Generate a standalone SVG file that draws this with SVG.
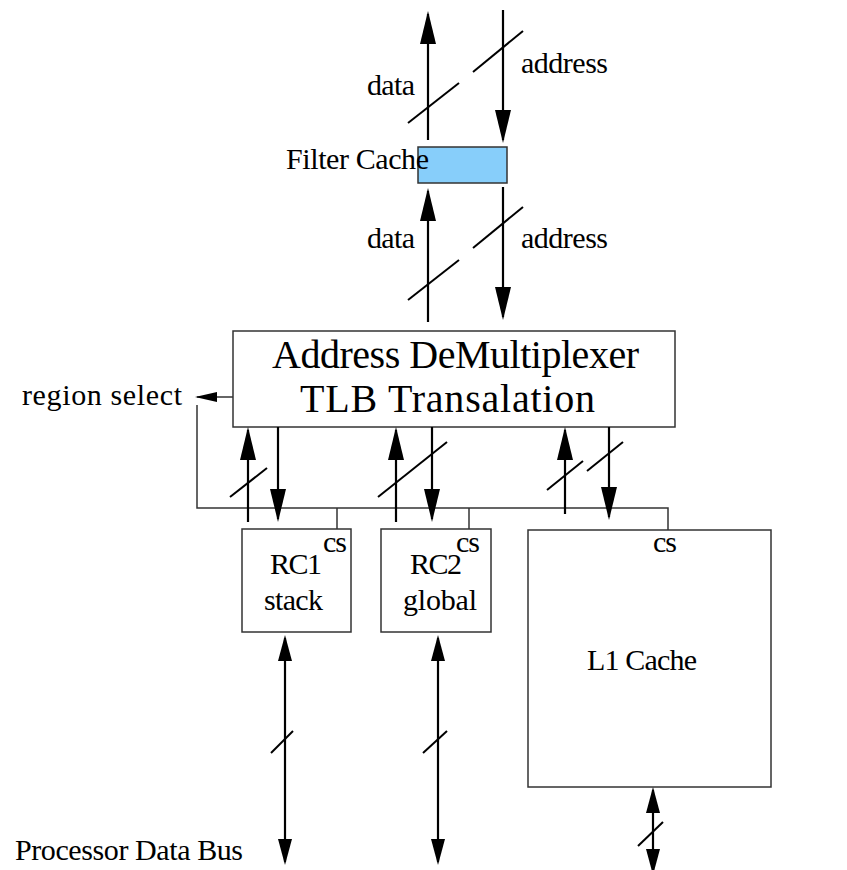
<svg xmlns="http://www.w3.org/2000/svg" width="847" height="870" viewBox="0 0 847 870">
<style>
  text { font-family: "Liberation Serif", "Times New Roman", serif; fill: #000; }
  .lbl { font-size: 30px; }
  .big { font-size: 40px; }
  .box { fill: #fff; stroke: #333; stroke-width: 1.5; }
  .fc { fill: #87cefa; stroke: #333; stroke-width: 1.5; }
  .arr { stroke: #000; stroke-width: 2.2; fill: none; }
  .slash { stroke: #000; stroke-width: 2; fill: none; }
  .thin { stroke: #333; stroke-width: 1.5; fill: none; }
</style>
<defs>
  <marker id="ah" markerUnits="userSpaceOnUse" viewBox="0 0 33 16" refX="30" refY="8" markerWidth="33" markerHeight="16" orient="auto">
    <path d="M0,0 L33,8 L0,16 z" fill="#000"/>
  </marker>
  <marker id="ahm" markerUnits="userSpaceOnUse" viewBox="0 0 26 14" refX="23" refY="7" markerWidth="26" markerHeight="14" orient="auto-start-reverse">
    <path d="M0,0 L26,7 L0,14 z" fill="#000"/>
  </marker>
  <marker id="ahs" markerUnits="userSpaceOnUse" viewBox="0 0 22 10" refX="20" refY="5" markerWidth="22" markerHeight="10" orient="auto">
    <path d="M0,0 L22,5 L0,10 z" fill="#000"/>
  </marker>
</defs>

<g id="filter-cache">
  <rect class="fc" x="418" y="147" width="89" height="36"/>
  <text class="lbl" x="286" y="169" textLength="143" lengthAdjust="spacing">Filter Cache</text>
</g>

<g id="demux">
  <rect class="box" x="233" y="331" width="442" height="96"/>
  <text class="big" x="272" y="368" textLength="367" lengthAdjust="spacing">Address DeMultiplexer</text>
  <text class="big" x="300" y="412" textLength="295" lengthAdjust="spacing">TLB Transalation</text>
</g>

<g id="rc1">
  <rect class="box" x="242" y="529" width="109" height="103"/>
  <text class="lbl" x="270" y="574" textLength="52" lengthAdjust="spacing">RC1</text>
  <text class="lbl" x="323" y="552" textLength="24" lengthAdjust="spacing">cs</text>
  <text class="lbl" x="264" y="610" textLength="59" lengthAdjust="spacing">stack</text>
</g>

<g id="rc2">
  <rect class="box" x="381" y="529" width="110" height="103"/>
  <text class="lbl" x="410" y="574" textLength="52" lengthAdjust="spacing">RC2</text>
  <text class="lbl" x="456" y="552" textLength="24" lengthAdjust="spacing">cs</text>
  <text class="lbl" x="403" y="610" textLength="74" lengthAdjust="spacing">global</text>
</g>

<g id="l1">
  <rect class="box" x="528" y="530" width="243" height="257"/>
  <text class="lbl" x="653" y="552" textLength="24" lengthAdjust="spacing">cs</text>
  <text class="lbl" x="587" y="670" textLength="110" lengthAdjust="spacing">L1 Cache</text>
</g>

<g id="labels">
  <text class="lbl" x="367" y="95" textLength="48" lengthAdjust="spacing">data</text>
  <text class="lbl" x="521" y="73" textLength="87" lengthAdjust="spacing">address</text>
  <text class="lbl" x="367" y="248" textLength="48" lengthAdjust="spacing">data</text>
  <text class="lbl" x="521" y="248" textLength="87" lengthAdjust="spacing">address</text>
  <text class="lbl" x="22" y="405" textLength="160" lengthAdjust="spacing">region select</text>
  <text class="lbl" x="15" y="860" textLength="228" lengthAdjust="spacing">Processor Data Bus</text>
</g>

<g id="connectors">
  <!-- top bus -->
  <line class="arr" x1="428" y1="140" x2="428" y2="14" marker-end="url(#ah)"/>
  <line class="arr" x1="503" y1="10" x2="503" y2="140" marker-end="url(#ah)"/>
  <line class="slash" x1="473" y1="72" x2="523" y2="31"/>
  <line class="slash" x1="408" y1="123" x2="459" y2="83"/>
  <!-- filter cache to demux -->
  <line class="arr" x1="428" y1="322" x2="428" y2="191" marker-end="url(#ah)"/>
  <line class="arr" x1="503" y1="187" x2="503" y2="317" marker-end="url(#ah)"/>
  <line class="slash" x1="473" y1="248" x2="523" y2="207"/>
  <line class="slash" x1="408" y1="300" x2="459" y2="260"/>
  <!-- region select -->
  <line class="thin" x1="233" y1="397" x2="197" y2="397" marker-end="url(#ahs)"/>
  <polyline class="thin" points="197,405 197,508 668,508 668,530"/>
  <line class="thin" x1="337" y1="508" x2="337" y2="529"/>
  <line class="thin" x1="469" y1="508" x2="469" y2="529"/>
  <!-- demux to RC1 -->
  <line class="arr" x1="248" y1="522" x2="248" y2="430" marker-end="url(#ah)"/>
  <line class="arr" x1="278" y1="427" x2="278" y2="519" marker-end="url(#ah)"/>
  <line class="slash" x1="230" y1="497" x2="267" y2="468"/>
  <!-- demux to RC2 -->
  <line class="arr" x1="396" y1="522" x2="396" y2="430" marker-end="url(#ah)"/>
  <line class="arr" x1="432" y1="427" x2="432" y2="519" marker-end="url(#ah)"/>
  <line class="slash" x1="378" y1="497" x2="447" y2="442"/>
  <!-- demux to L1 -->
  <line class="arr" x1="565" y1="514" x2="565" y2="430" marker-end="url(#ah)"/>
  <line class="arr" x1="609" y1="427" x2="609" y2="517" marker-end="url(#ah)"/>
  <line class="slash" x1="547" y1="490" x2="583" y2="461"/>
  <line class="slash" x1="587" y1="471" x2="623" y2="442"/>
  <!-- processor data bus -->
  <line class="arr" x1="285" y1="638" x2="285" y2="862" marker-start="url(#ahm)" marker-end="url(#ahm)"/>
  <line class="slash" x1="271" y1="753" x2="293" y2="731"/>
  <line class="arr" x1="438" y1="638" x2="438" y2="862" marker-start="url(#ahm)" marker-end="url(#ahm)"/>
  <line class="slash" x1="423" y1="753" x2="447" y2="731"/>
  <line class="arr" x1="653" y1="790" x2="653" y2="872" marker-start="url(#ahm)" marker-end="url(#ahm)"/>
  <line class="slash" x1="638" y1="846" x2="663" y2="822"/>
</g>
</svg>
